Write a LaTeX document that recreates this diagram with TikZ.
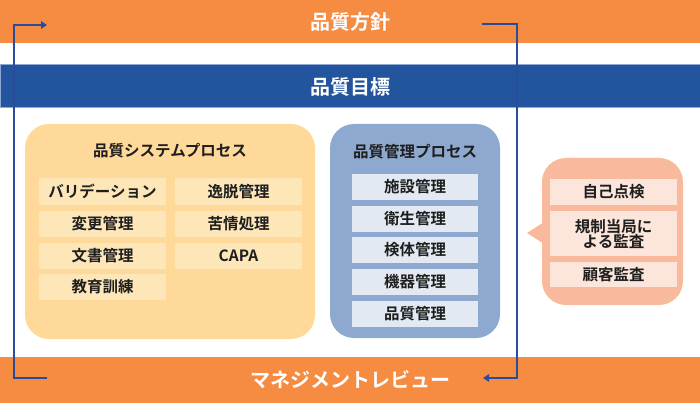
\documentclass[tikz,border=0pt]{standalone}
\usepackage{fontspec}
\setmainfont{Noto Sans CJK JP}[BoldFont={Noto Sans CJK JP Bold}]
\usetikzlibrary{arrows.meta}
\definecolor{orangeband}{HTML}{F68C42}
\definecolor{blueband}{HTML}{23559E}
\definecolor{blueedge}{HTML}{8FA8D3}
\definecolor{conn}{HTML}{2B4C9B}
\definecolor{yelbox}{HTML}{FFD999}
\definecolor{yelsub}{HTML}{FDE6B8}
\definecolor{bluebox}{HTML}{8EA9CF}
\definecolor{bluesub}{HTML}{E3E9F2}
\definecolor{salbox}{HTML}{F9B99C}
\definecolor{salsub}{HTML}{FCE5DA}
\definecolor{txt}{HTML}{1E1E1E}
\tikzset{
  band/.style={minimum width=700pt, inner sep=0pt, text=white, font=\bfseries\fontsize{20}{22}\selectfont},
  bigbox/.style={rounded corners=24pt, inner sep=0pt},
  ttl/.style={font=\bfseries\fontsize{15.5}{17}\selectfont, text=txt},
  subbox/.style={inner sep=0pt, font=\bfseries\fontsize{15.5}{17}\selectfont, text=txt, align=center},
  ysub/.style={subbox, fill=yelsub, minimum width=127pt, minimum height=26pt},
  bsub/.style={subbox, fill=bluesub, minimum width=126pt, minimum height=26pt},
  ssub/.style={subbox, fill=salsub, minimum width=127pt},
  conline/.style={draw=conn, line width=2pt},
  contip/.style={-{Triangle[length=6pt,width=7.5pt]}}
}
\begin{document}
\begin{tikzpicture}[x=1pt,y=-1pt]
\useasboundingbox (0,0) rectangle (700,403);
% bands
\node[band, fill=orangeband, minimum height=43pt] (policy) at (350,21.5) {品質方針};
\node[band, fill=blueband, draw=blueedge, line width=1pt, minimum height=43pt] (objective) at (350,86.5) {品質目標};
\node[band, fill=orangeband, minimum height=46pt] (review) at (350,380) {マネジメントレビュー};
% yellow box
\node[bigbox, fill=yelbox, minimum width=290pt, minimum height=215pt] (qsys) at (170,231.5) {};
\node[ttl] (qsystitle) at (170,151) {品質システムプロセス};
\node[ysub] (y1) at (102.5,191.5) {バリデーション};
\node[ysub] (y2) at (102.5,224) {変更管理};
\node[ysub] (y3) at (102.5,255.5) {文書管理};
\node[ysub] (y4) at (102.5,287) {教育訓練};
\node[ysub] (y5) at (238.5,191.5) {逸脱管理};
\node[ysub] (y6) at (238.5,224) {苦情処理};
\node[ysub] (y7) at (238.5,255.5) {CAPA};
% blue box
\node[bigbox, fill=bluebox, minimum width=170pt, minimum height=214pt] (qctl) at (415,231) {};
\node[ttl] (qctltitle) at (415,152) {品質管理プロセス};
\node[bsub] (b1) at (415,187) {施設管理};
\node[bsub] (b2) at (415,219) {衛生管理};
\node[bsub] (b3) at (415,250) {検体管理};
\node[bsub] (b4) at (415,282) {機器管理};
\node[bsub] (b5) at (415,314) {品質管理};
% salmon callout
\node[bigbox, fill=salbox, minimum width=141pt, minimum height=147pt] (audit) at (612.5,231.5) {};
\fill[salbox] (527,233) -- (544,222) -- (544,244) -- cycle;
\node[ssub, minimum height=26pt] (s1) at (613.5,192) {自己点検};
\node[ssub, minimum height=45pt] (s2) at (613.5,233.5) {規制当局に\\[-2pt]よる監査};
\node[ssub, minimum height=25pt] (s3) at (613.5,274.5) {顧客監査};
% connectors
\coordinate (lb) at (47,378);
\coordinate (lt) at (47,25);
\coordinate (rt) at (482,24);
\coordinate (rb) at (483,378);
\draw[conline, contip] (lb) -- (14,378) -- (14,25) -- (lt);
\draw[conline, contip] (rt) -- (517,24) -- (517,378) -- (rb);
\end{tikzpicture}
\end{document}
